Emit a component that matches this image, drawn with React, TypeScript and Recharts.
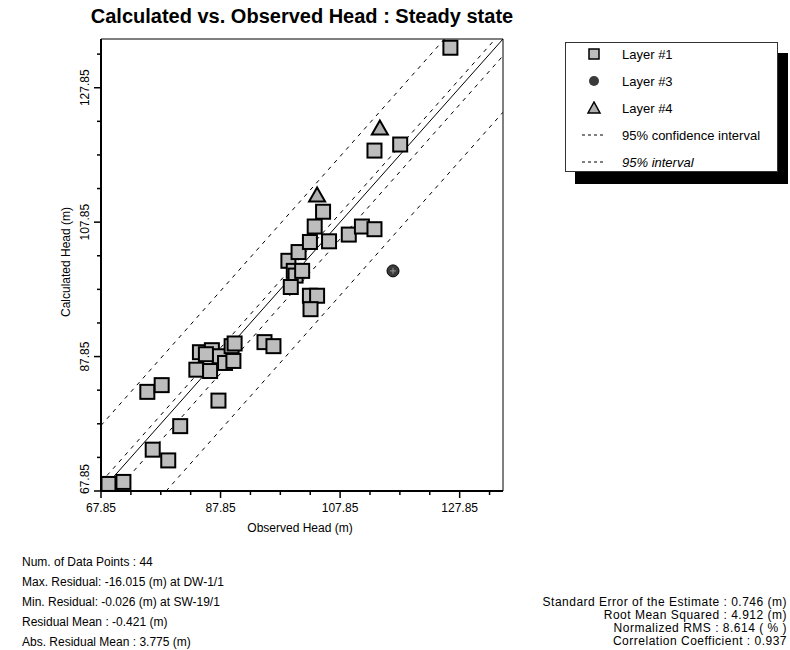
import React from 'react';
import {
  ScatterChart,
  Scatter,
  XAxis,
  YAxis,
  ReferenceArea,
} from 'recharts';

// observed (x) vs calculated (y) head, metres
const layer1 = [
  { x: 69.1, y: 68.9 },
  { x: 71.6, y: 69.2 },
  { x: 76.5, y: 74.0 },
  { x: 79.1, y: 72.4 },
  { x: 81.1, y: 77.5 },
  { x: 75.6, y: 82.6 },
  { x: 78.0, y: 83.6 },
  { x: 87.5, y: 81.3 },
  { x: 83.8, y: 85.9 },
  { x: 86.1, y: 85.7 },
  { x: 84.4, y: 88.5 },
  { x: 86.4, y: 88.8 },
  { x: 87.7, y: 87.9 },
  { x: 85.4, y: 88.2 },
  { x: 88.6, y: 86.9 },
  { x: 89.7, y: 89.4 },
  { x: 90.2, y: 89.8 },
  { x: 90.0, y: 87.2 },
  { x: 95.2, y: 90.0 },
  { x: 96.7, y: 89.4 },
  { x: 99.2, y: 102.1 },
  { x: 100.9, y: 103.4 },
  { x: 100.1, y: 100.6 },
  { x: 100.4, y: 99.9 },
  { x: 101.5, y: 100.6 },
  { x: 99.6, y: 98.2 },
  { x: 102.8, y: 96.9 },
  { x: 104.0, y: 96.9 },
  { x: 102.9, y: 94.9 },
  { x: 102.8, y: 104.9 },
  { x: 103.6, y: 107.2 },
  { x: 105.0, y: 109.4 },
  { x: 106.0, y: 105.0 },
  { x: 109.3, y: 106.0 },
  { x: 111.5, y: 107.2 },
  { x: 113.6, y: 106.8 },
  { x: 113.6, y: 118.5 },
  { x: 117.9, y: 119.4 },
  { x: 126.3, y: 133.8 },
];
const layer3 = [{ x: 116.7, y: 100.6 }];
const layer4 = [
  { x: 104.0, y: 111.8 },
  { x: 114.5, y: 121.8 },
];

// 1:1 line and interval bands (end points)
const perfectFit = [
  { x: 67.85, y: 67.85 },
  { x: 135.1, y: 135.1 },
];
const confUpper = [
  { x: 67.85, y: 69.15 },
  { x: 133.8, y: 135.1 },
];
const confLower = [
  { x: 70.35, y: 67.85 },
  { x: 135.1, y: 132.6 },
];
const intUpper = [
  { x: 67.85, y: 77.6 },
  { x: 125.3, y: 135.1 },
];
const intLower = [
  { x: 78.75, y: 67.85 },
  { x: 135.1, y: 124.2 },
];

const axisTicks = [
  67.85, 72.85, 77.85, 82.85, 87.85, 92.85, 97.85, 102.85, 107.85, 112.85,
  117.85, 122.85, 127.85, 132.85,
];
const majorTicks = [67.85, 87.85, 107.85, 127.85];
const domain = [67.85, 135.1];

const statsLeft = [
  'Num. of Data Points : 44',
  'Max. Residual: -16.015 (m) at DW-1/1',
  'Min. Residual: -0.026 (m) at SW-19/1',
  'Residual Mean : -0.421 (m)',
  'Abs. Residual Mean : 3.775 (m)',
];
const statsRight = [
  'Standard Error of the Estimate : 0.746 (m)',
  'Root Mean Squared : 4.912 (m)',
  'Normalized RMS : 8.614 ( % )',
  'Correlation Coefficient : 0.937',
];

const font = 'Arial, "Liberation Sans", sans-serif';

const Square = ({ cx, cy }: any) => (
  <rect x={cx - 7} y={cy - 7} width={14} height={14} fill="#bdbdbd" stroke="#000" strokeWidth={2} />
);
const Dot = ({ cx, cy }: any) => (
  <g>
    <circle cx={cx} cy={cy} r={6} fill="#3a3a3a" stroke="#000" />
    <line x1={cx - 3} y1={cy} x2={cx + 3} y2={cy} stroke="#999" />
    <line x1={cx} y1={cy - 3} x2={cx} y2={cy + 3} stroke="#999" />
  </g>
);
const Tri = ({ cx, cy }: any) => (
  <polygon
    points={`${cx},${cy - 8} ${cx - 8},${cy + 6} ${cx + 8},${cy + 6}`}
    fill="#b0b0b0"
    stroke="#000"
    strokeWidth={2}
  />
);
const NoDot = () => <g />;

const XTick = ({ x, y, payload }: any) => {
  const major = majorTicks.includes(payload.value);
  return (
    <g>
      <line x1={x} y1={y} x2={x} y2={y + (major ? 7 : 4)} stroke="#000" strokeWidth={1.5} />
      {major && (
        <text x={x} y={y + 21} textAnchor="middle" fontSize={12} fontFamily={font} fill="#000">
          {payload.value.toFixed(2)}
        </text>
      )}
    </g>
  );
};

const YTick = ({ x, y, payload }: any) => {
  const major = majorTicks.includes(payload.value);
  const ty = payload.value === 67.85 ? y - 12 : y;
  return (
    <g>
      <line x1={x} y1={y} x2={x - (major ? 7 : 4)} y2={y} stroke="#000" strokeWidth={1.5} />
      {major && (
        <text
          x={x - 12}
          y={ty}
          textAnchor="middle"
          fontSize={12}
          fontFamily={font}
          fill="#000"
          transform={`rotate(-90, ${x - 12}, ${ty})`}
        >
          {payload.value.toFixed(2)}
        </text>
      )}
    </g>
  );
};

const dashed = { stroke: '#000', strokeWidth: 1, strokeDasharray: '4 5' };

const legendRows = [
  { label: 'Layer #1', icon: 'square' },
  { label: 'Layer #3', icon: 'dot' },
  { label: 'Layer #4', icon: 'tri' },
  { label: '95% confidence interval', icon: 'dash' },
  { label: '95% interval', icon: 'dash', italic: true },
];

const LegendIcon = ({ icon }: { icon: string }) => (
  <svg width={24} height={14}>
    {icon === 'square' && <rect x={7} y={2} width={10} height={10} fill="#bdbdbd" stroke="#000" strokeWidth={1.5} />}
    {icon === 'dot' && <circle cx={12} cy={7} r={5} fill="#3a3a3a" />}
    {icon === 'tri' && <polygon points="12,1 6,12 18,12" fill="#b0b0b0" stroke="#000" strokeWidth={1.5} />}
    {icon === 'dash' && <line x1={0} y1={7} x2={24} y2={7} stroke="#000" strokeDasharray="3 3" />}
  </svg>
);

export default function App() {
  return (
    <div
      style={{
        position: 'absolute',
        left: 0,
        top: 0,
        width: 790,
        height: 650,
        background: '#fff',
        fontFamily: font,
        overflow: 'hidden',
      }}
    >
      <div
        style={{
          position: 'absolute',
          left: 50,
          width: 504,
          top: 5,
          textAlign: 'center',
          fontSize: 20,
          fontWeight: 'bold',
        }}
      >
        Calculated vs. Observed Head : Steady state
      </div>

      <ScatterChart width={790} height={650} margin={{ top: 39, right: 287, bottom: 129, left: 41 }}>
        <XAxis
          type="number"
          dataKey="x"
          domain={domain}
          ticks={axisTicks}
          interval={0}
          tick={<XTick />}
          tickSize={0}
          tickMargin={0}
          tickLine={false}
          axisLine={{ stroke: '#000', strokeWidth: 2 }}
          allowDataOverflow
        />
        <YAxis
          type="number"
          dataKey="y"
          domain={domain}
          ticks={axisTicks}
          interval={0}
          tick={<YTick />}
          tickSize={0}
          tickMargin={0}
          tickLine={false}
          axisLine={{ stroke: '#000', strokeWidth: 2 }}
          allowDataOverflow
        />
        <ReferenceArea x1={domain[0]} x2={domain[1]} y1={domain[0]} y2={domain[1]} fill="none" stroke="#000" strokeWidth={1} />
        <Scatter data={intUpper} line={dashed} shape={<NoDot />} isAnimationActive={false} />
        <Scatter data={intLower} line={dashed} shape={<NoDot />} isAnimationActive={false} />
        <Scatter data={confUpper} line={dashed} shape={<NoDot />} isAnimationActive={false} />
        <Scatter data={confLower} line={dashed} shape={<NoDot />} isAnimationActive={false} />
        <Scatter data={perfectFit} line={{ stroke: '#000', strokeWidth: 1 }} shape={<NoDot />} isAnimationActive={false} />
        <Scatter data={layer1} shape={<Square />} isAnimationActive={false} />
        <Scatter data={layer3} shape={<Dot />} isAnimationActive={false} />
        <Scatter data={layer4} shape={<Tri />} isAnimationActive={false} />
      </ScatterChart>

      <div
        style={{
          position: 'absolute',
          left: 66,
          top: 262,
          transform: 'translate(-50%, -50%) rotate(-90deg)',
          fontSize: 12,
          whiteSpace: 'nowrap',
        }}
      >
        Calculated Head (m)
      </div>
      <div style={{ position: 'absolute', left: 200, width: 200, top: 521, textAlign: 'center', fontSize: 12 }}>
        Observed Head (m)
      </div>

      {/* legend with drop shadow */}
      <div style={{ position: 'absolute', left: 575, top: 53, width: 213, height: 131, background: '#000' }} />
      <div
        style={{
          position: 'absolute',
          left: 565,
          top: 42,
          width: 211,
          height: 128,
          background: '#fff',
          border: '1px solid #333',
          fontSize: 13,
        }}
      >
        {legendRows.map((r, i) => (
          <div key={i} style={{ position: 'absolute', left: 16, top: 2 + i * 27, display: 'flex', alignItems: 'center', height: 18 }}>
            <LegendIcon icon={r.icon} />
            <span style={{ marginLeft: 16, fontStyle: r.italic ? 'italic' : 'normal' }}>{r.label}</span>
          </div>
        ))}
      </div>

      <div style={{ position: 'absolute', left: 22, top: 552, fontSize: 12, lineHeight: '20px' }}>
        {statsLeft.map((s, i) => (
          <div key={i}>{s}</div>
        ))}
      </div>
      <div
        style={{
          position: 'absolute',
          right: 3,
          top: 596,
          fontSize: 12,
          lineHeight: '13px',
          letterSpacing: '0.5px',
          textAlign: 'right',
        }}
      >
        {statsRight.map((s, i) => (
          <div key={i}>{s}</div>
        ))}
      </div>
    </div>
  );
}
